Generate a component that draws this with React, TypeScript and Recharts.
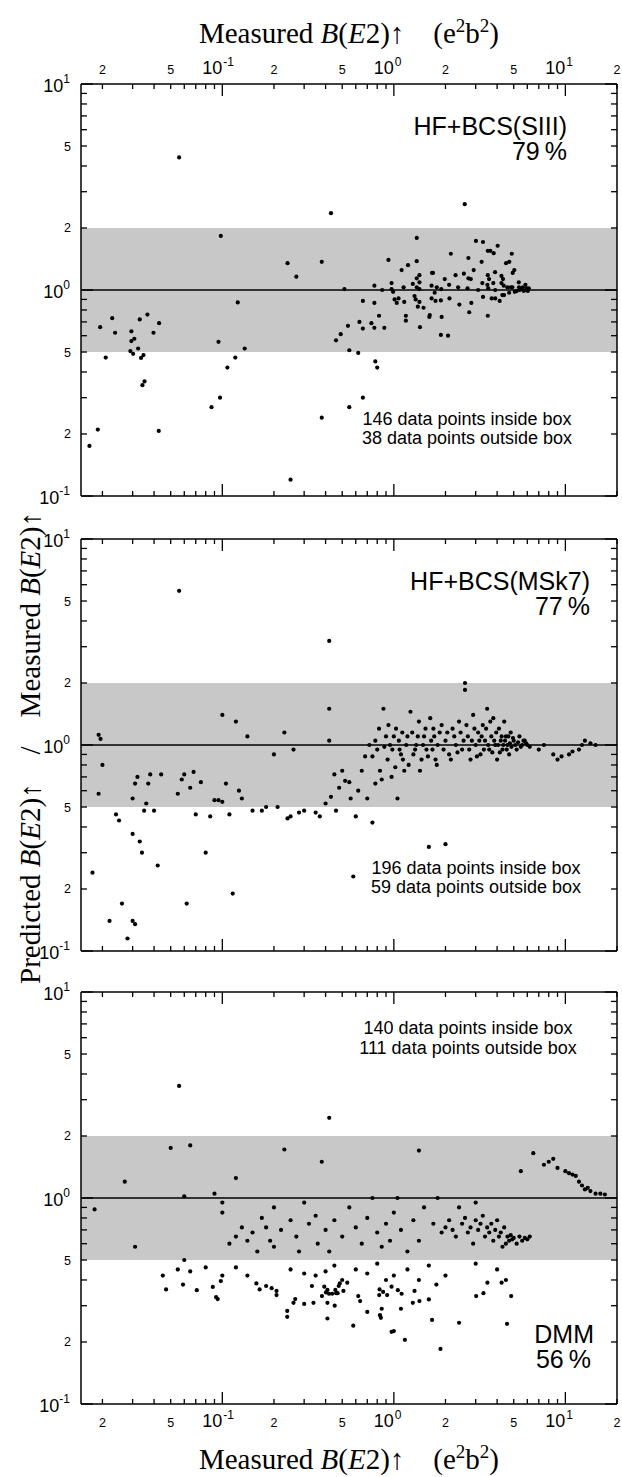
import React from "react";
import {
  ScatterChart,
  Scatter,
  XAxis,
  YAxis,
  ReferenceArea,
  ReferenceLine,
} from "recharts";

// tick positions and labels
const xTicks = [
  0.02, 0.03, 0.04, 0.05, 0.06, 0.07, 0.08, 0.09, 0.1, 0.2, 0.3, 0.4, 0.5,
  0.6, 0.7, 0.8, 0.9, 1, 2, 3, 4, 5, 6, 7, 8, 9, 10, 20,
];
const yTicks = [
  0.1, 0.2, 0.3, 0.4, 0.5, 0.6, 0.7, 0.8, 0.9, 1, 2, 3, 4, 5, 6, 7, 8, 9, 10,
];
const xTickLabels: [number, string][] = [
  [0.02, "2"], [0.05, "5"], [0.1, "10^-1"], [0.2, "2"], [0.5, "5"],
  [1, "10^0"], [2, "2"], [5, "5"], [10, "10^1"], [20, "2"],
];
const yTickLabels: [number, string][] = [
  [0.1, "10^-1"], [0.2, "2"], [0.5, "5"], [1, "10^0"], [2, "2"], [5, "5"],
  [10, "10^1"],
];

// [measured B(E2), predicted / measured]
const siiiPoints: [number, number][] = [
  [0.098, 1.83], [0.24, 1.35], [0.27, 1.16], [0.123, 0.87], [0.0194, 0.66],
  [0.0228, 0.73], [0.0237, 0.62], [0.0209, 0.47], [0.0295, 0.63], [0.033, 0.72],
  [0.0366, 0.76], [0.0428, 0.69], [0.0397, 0.62], [0.0295, 0.565], [0.0307, 0.58],
  [0.0323, 0.52], [0.0291, 0.505], [0.0302, 0.49], [0.0347, 0.483], [0.0336, 0.468],
  [0.0352, 0.36], [0.0342, 0.345], [0.0188, 0.21], [0.0168, 0.175], [0.0426, 0.207],
  [0.095, 0.56], [0.135, 0.52], [0.119, 0.47], [0.107, 0.42], [0.097, 0.3],
  [0.0865, 0.27], [0.43, 2.36], [2.59, 2.61], [0.38, 1.37], [1.36, 1.79],
  [0.93, 1.4], [1.21, 1.32], [1.36, 1.38], [1.11, 1.25], [1.41, 1.18],
  [1.36, 1.14], [1.41, 1.09], [1.29, 1.07], [0.97, 1.08], [0.77, 1.05],
  [0.855, 1.0], [0.97, 1.01], [0.99, 0.98], [0.515, 1.01], [1.14, 1.03],
  [1.36, 1.03], [1.41, 1.01], [1.01, 0.9], [1.065, 0.91], [1.04, 0.865],
  [1.15, 0.875], [0.66, 0.885], [0.77, 0.865], [1.32, 0.935], [1.34, 0.9],
  [1.41, 0.875], [1.38, 0.83], [1.49, 0.82], [1.66, 0.91], [1.75, 0.885],
  [1.73, 0.97], [1.78, 1.03], [1.67, 1.21], [1.69, 1.21], [1.66, 1.05],
  [1.89, 1.01], [1.88, 0.89], [1.98, 1.13], [2.15, 1.5], [2.1, 1.06],
  [2.11, 0.91], [2.29, 1.18], [2.37, 1.03], [2.41, 0.85], [2.56, 1.2],
  [2.72, 1.43], [2.72, 1.14], [2.81, 1.13], [2.69, 1.02], [2.83, 0.865],
  [2.75, 0.78], [2.92, 1.25], [3.01, 1.73], [3.31, 1.71], [3.25, 1.37],
  [3.1, 1.0], [3.28, 1.08], [3.31, 0.925], [3.53, 1.55], [3.65, 1.55],
  [3.82, 1.51], [4.03, 1.64], [3.53, 1.18], [3.59, 1.13], [3.51, 1.06],
  [3.55, 1.02], [3.8, 1.08], [3.89, 1.22], [3.9, 1.0], [3.72, 0.91],
  [3.9, 0.91], [4.14, 0.885], [3.53, 0.75], [4.24, 1.17], [4.33, 1.13],
  [4.24, 1.08], [4.37, 1.05], [4.29, 0.945], [4.39, 0.945], [4.59, 1.03],
  [4.51, 1.35], [4.71, 1.37], [4.87, 1.5], [4.93, 1.21], [5.04, 1.25],
  [4.81, 1.03], [4.7, 0.97], [4.91, 1.03], [5.07, 0.98], [5.21, 0.99],
  [5.35, 1.09], [5.37, 1.03], [5.42, 1.0], [5.54, 1.01], [5.65, 1.03],
  [5.72, 0.99], [5.85, 1.06], [5.96, 1.02], [6.04, 0.99], [6.12, 1.02],
  [5.91, 1.0], [0.74, 0.69], [0.82, 0.75], [0.66, 0.65], [0.77, 0.655],
  [0.88, 0.655], [0.63, 0.7], [0.54, 0.67], [0.49, 0.61], [0.46, 0.57],
  [0.55, 0.51], [0.62, 0.495], [1.175, 0.71], [1.175, 0.75], [1.61, 0.74],
  [1.62, 0.756], [1.9, 0.74], [1.42, 0.66], [1.88, 0.605], [2.07, 0.6],
  [0.056, 4.4], [0.38, 0.24], [0.25, 0.12], [0.55, 0.27], [0.66, 0.3],
  [0.8, 0.42], [0.78, 0.45],
];

const msk7Points: [number, number][] = [
  [0.0175, 0.24], [0.019, 1.12], [0.0195, 1.07], [0.02, 0.8], [0.019, 0.58],
  [0.022, 0.14], [0.024, 0.46], [0.025, 0.43], [0.026, 0.17], [0.028, 0.115],
  [0.03, 0.14], [0.031, 0.135], [0.03, 0.37], [0.03, 0.55], [0.031, 0.65],
  [0.032, 0.7], [0.033, 0.34], [0.034, 0.3], [0.035, 0.48], [0.036, 0.52],
  [0.037, 0.65], [0.038, 0.72], [0.04, 0.48], [0.042, 0.26], [0.044, 0.72],
  [0.056, 5.6], [0.055, 0.58], [0.058, 0.68], [0.06, 0.72], [0.062, 0.17],
  [0.065, 0.62], [0.068, 0.74], [0.07, 0.46], [0.075, 0.66], [0.08, 0.3],
  [0.085, 0.45], [0.09, 0.54], [0.095, 0.54], [0.1, 1.4], [0.1, 0.53],
  [0.105, 0.65], [0.11, 0.46], [0.115, 0.19], [0.12, 1.3], [0.125, 0.6],
  [0.13, 0.55], [0.14, 1.1], [0.15, 0.48], [0.17, 0.48], [0.18, 0.5],
  [0.2, 0.9], [0.21, 0.5], [0.23, 1.15], [0.24, 0.44], [0.25, 0.45],
  [0.26, 0.95], [0.28, 0.47], [0.3, 0.48], [0.35, 0.47], [0.37, 0.45],
  [0.4, 0.52], [0.42, 3.2], [0.42, 1.5], [0.42, 1.05], [0.43, 0.56],
  [0.45, 0.72], [0.46, 0.48], [0.48, 0.62], [0.5, 0.75], [0.52, 0.67],
  [0.55, 0.66], [0.56, 0.55], [0.58, 0.23], [0.6, 0.45], [0.62, 0.6],
  [0.65, 0.75], [0.68, 0.88], [0.7, 0.55], [0.72, 1.0], [0.75, 0.42],
  [0.78, 0.65], [0.8, 0.95], [0.82, 1.2], [0.85, 0.68], [0.87, 1.5],
  [0.9, 1.1], [0.92, 0.85], [0.95, 1.0], [0.98, 0.95], [1.0, 1.1],
  [1.02, 0.78], [1.05, 0.55], [1.07, 1.05], [1.1, 0.9], [1.12, 1.15],
  [1.15, 0.75], [1.2, 1.1], [1.25, 1.45], [1.3, 0.9], [1.35, 1.0],
  [1.4, 1.3], [1.45, 0.85], [1.5, 1.1], [1.55, 0.95], [1.6, 0.32],
  [1.65, 1.05], [1.7, 1.2], [1.75, 0.85], [1.8, 1.0], [1.9, 1.25],
  [2.0, 0.33], [2.0, 1.05], [2.1, 0.9], [2.2, 1.2], [2.3, 1.0],
  [2.4, 1.3], [2.5, 0.95], [2.6, 2.0], [2.6, 1.85], [2.7, 1.1],
  [2.8, 0.85], [2.9, 1.4], [3.0, 1.0], [3.1, 1.15], [3.2, 0.9],
  [3.3, 1.25], [3.4, 1.05], [3.5, 1.5], [3.6, 0.95], [3.7, 1.1],
  [3.8, 1.35], [3.9, 1.0], [4.0, 0.85], [4.1, 1.2], [4.2, 1.05],
  [4.3, 0.95], [4.4, 1.3], [4.5, 1.1], [4.6, 1.0], [4.7, 0.9],
  [4.8, 1.15], [5.0, 1.05], [5.2, 0.95], [5.4, 1.1], [5.6, 1.0],
  [5.8, 1.05], [6.0, 1.0], [7.0, 0.95], [7.5, 1.0], [8.5, 0.9],
  [9.0, 0.85], [9.5, 0.88], [10.5, 0.9], [11.0, 0.93], [12.0, 0.95],
  [12.5, 1.0], [13.0, 1.05], [14.0, 1.02], [15.0, 1.0],
  [0.75, 0.88], [0.78, 1.05], [0.83, 0.75], [0.88, 0.98], [0.93, 1.25],
  [0.97, 0.7], [1.03, 1.2], [1.08, 0.95], [1.13, 0.85], [1.18, 1.0],
  [1.22, 0.8], [1.28, 1.15], [1.33, 0.95], [1.38, 1.1], [1.42, 0.75],
  [1.48, 1.0], [1.53, 1.2], [1.58, 0.88], [1.63, 1.35], [1.68, 0.95],
  [1.72, 1.1], [1.78, 0.8], [1.85, 1.15], [1.95, 0.95], [2.05, 1.15],
  [2.15, 0.85], [2.25, 1.1], [2.35, 0.92], [2.45, 1.15], [2.55, 1.05],
  [2.65, 1.25], [2.75, 0.95], [2.85, 1.05], [2.95, 1.2], [3.05, 0.88],
  [3.15, 1.05], [3.25, 1.1], [3.35, 0.95], [3.45, 1.2], [3.55, 1.0],
  [3.65, 1.3], [3.75, 0.92], [3.85, 1.05], [3.95, 1.15], [4.05, 1.0],
  [4.15, 0.92], [4.25, 1.1], [4.35, 1.0], [4.45, 1.05], [4.55, 0.95],
  [4.65, 1.1], [4.75, 1.02], [4.85, 0.98], [4.95, 1.08], [5.1, 1.0],
  [5.3, 1.03], [5.5, 0.98], [5.7, 1.05], [5.9, 1.02], [6.2, 0.98],
];

const dmmPoints: [number, number][] = [
  [0.047, 0.36], [0.059, 0.38], [0.071, 0.357], [0.088, 0.37], [0.092, 0.33],
  [0.094, 0.323], [0.158, 0.385], [0.165, 0.36], [0.18, 0.374], [0.194, 0.365],
  [0.207, 0.354], [0.207, 0.338], [0.239, 0.283], [0.239, 0.265], [0.26, 0.31],
  [0.266, 0.323], [0.3, 0.306], [0.333, 0.374], [0.34, 0.31], [0.41, 0.26],
  [0.41, 0.31], [0.452, 0.3], [0.62, 0.334], [0.636, 0.316], [0.58, 0.24],
  [0.7, 0.28], [0.83, 0.27], [0.84, 0.262], [0.85, 0.29], [0.97, 0.224],
  [1.0, 0.226], [1.1, 0.29], [1.16, 0.205], [1.67, 0.256], [1.87, 0.185],
  [2.4, 0.248], [4.57, 0.245], [0.381, 0.334], [0.393, 0.371], [0.402, 0.348],
  [0.41, 0.358], [0.419, 0.343], [0.437, 0.343], [0.456, 0.358], [0.461, 0.345],
  [0.47, 0.345], [0.477, 0.374], [0.484, 0.385], [0.508, 0.354], [0.535, 0.388],
  [0.826, 0.36], [0.822, 0.338], [0.866, 0.35], [0.914, 0.338], [0.97, 0.371],
  [1.055, 0.357], [1.11, 0.343], [1.29, 0.31], [1.32, 0.354], [1.41, 0.316],
  [1.6, 0.322], [1.77, 0.38], [3.02, 0.334], [3.33, 0.345], [3.51, 0.388],
  [4.25, 0.388], [4.83, 0.334], [0.098, 0.395],
  [0.056, 3.5], [0.42, 2.45], [0.05, 1.75], [0.065, 1.8], [0.23, 1.72],
  [0.38, 1.5], [1.4, 1.7], [0.027, 1.2], [0.018, 0.88], [0.031, 0.58],
  [5.5, 1.35], [0.06, 1.02], [0.09, 1.05], [0.1, 0.95], [0.1, 0.85],
  [0.11, 0.6], [0.12, 1.25], [0.12, 0.65], [0.13, 0.72], [0.14, 0.62],
  [0.15, 0.68], [0.16, 0.55], [0.17, 0.8], [0.18, 0.72], [0.19, 0.62],
  [0.2, 0.9], [0.2, 0.58], [0.22, 0.7], [0.25, 0.78], [0.27, 0.65],
  [0.28, 0.55], [0.3, 0.95], [0.32, 0.75], [0.35, 0.82], [0.36, 0.6],
  [0.4, 0.7], [0.42, 0.55], [0.45, 0.78], [0.5, 0.65], [0.55, 0.9],
  [0.6, 0.72], [0.65, 0.6], [0.7, 0.8], [0.75, 1.0], [0.8, 0.68],
  [0.85, 0.58], [0.9, 0.75], [0.95, 0.62], [1.0, 0.85], [1.05, 1.0],
  [1.1, 0.7], [1.2, 0.55], [1.3, 0.78], [1.4, 0.62], [1.5, 0.9],
  [1.7, 0.75], [1.9, 0.68], [2.0, 0.72], [2.1, 0.78], [2.2, 0.7],
  [2.3, 0.65], [2.5, 0.75], [2.6, 0.8], [2.7, 0.68], [2.8, 0.72],
  [2.9, 0.6], [3.0, 0.78], [3.1, 0.7], [3.2, 0.75], [3.3, 0.82],
  [3.4, 0.65], [3.5, 0.72], [3.6, 0.68], [3.7, 0.75], [3.8, 0.62],
  [3.9, 0.7], [4.0, 0.78], [4.1, 0.65], [4.2, 0.68], [4.3, 0.58],
  [4.4, 0.72], [4.5, 0.6], [4.6, 0.65], [4.7, 0.62], [4.8, 0.66],
  [4.9, 0.63], [5.0, 0.64], [5.2, 0.6], [5.4, 0.65], [5.6, 0.62],
  [5.8, 0.64], [6.0, 0.63], [6.2, 0.65], [3.0, 0.95], [2.4, 0.9],
  [1.8, 1.0], [6.5, 1.65], [7.5, 1.45], [8.0, 1.5], [8.5, 1.55],
  [10.0, 1.35], [11.0, 1.3], [11.5, 1.28], [12.0, 1.2], [12.5, 1.15],
  [13.0, 1.1], [14.0, 1.08], [15.0, 1.05], [16.0, 1.05], [17.0, 1.04],
  [9.0, 1.4], [10.5, 1.32], [13.5, 1.12],
  [0.045, 0.42], [0.055, 0.45], [0.06, 0.5], [0.065, 0.44], [0.08, 0.46],
  [0.1, 0.42], [0.12, 0.46], [0.14, 0.42], [0.25, 0.45], [0.3, 0.43],
  [0.35, 0.42], [0.4, 0.44], [0.45, 0.47], [0.5, 0.4], [0.6, 0.45],
  [0.7, 0.43], [0.8, 0.48], [0.9, 0.4], [1.0, 0.42], [1.2, 0.45],
  [1.4, 0.4], [1.6, 0.47], [2.0, 0.42], [3.0, 0.48], [4.0, 0.45],
  [4.5, 0.4],
];

const SANS = "'Liberation Sans', Arial, Helvetica, sans-serif";
const SERIF = "'Liberation Serif', 'Times New Roman', serif";

const W = 622;
const PLOT_LEFT = 81;
const PLOT_RIGHT = 617;
const PLOT_H = 412;
const PAD = 40;

function labelFor(list: [number, string][], v: number): string | null {
  const hit = list.find(([t]) => Math.abs(t - v) < v * 1e-6);
  return hit ? hit[1] : null;
}

function isDecade(v: number) {
  const l = Math.log10(v);
  return Math.abs(l - Math.round(l)) < 1e-6;
}

function XTick(props: any) {
  const { x, y, payload, side, labelled } = props;
  const v = payload.value;
  const len = isDecade(v) ? 12 : 5;
  const dir = side === "top" ? 1 : -1;
  const label = labelled ? labelFor(xTickLabels, v) : null;
  const base = side === "top" ? y - 10 : y + 23;
  let text = null;
  if (label) {
    const [b, e] = label.split("^");
    text = e ? (
      <g fontFamily={SANS} fill="#000">
        <text x={x} y={base} textAnchor="end" fontSize={18}>{b}</text>
        <text x={x + 1} y={base - 8} textAnchor="start" fontSize={12}>{e}</text>
      </g>
    ) : (
      <text x={x} y={base} textAnchor="middle" fontSize={12.5} fontFamily={SANS} fill="#000">
        {b}
      </text>
    );
  }
  return (
    <g>
      <line x1={x} x2={x} y1={y} y2={y + dir * len} stroke="#000" strokeWidth={1.3} />
      {text}
    </g>
  );
}

function YTick(props: any) {
  const { x, y, payload, side } = props;
  const v = payload.value;
  const len = isDecade(v) ? 12 : 6;
  const dir = side === "left" ? 1 : -1;
  const label = side === "left" ? labelFor(yTickLabels, v) : null;
  let text = null;
  if (label) {
    const [b, e] = label.split("^");
    text = e ? (
      <text x={x - 11} y={y + 8} textAnchor="end" fontSize={18} fontFamily={SANS} fill="#000">
        {b}
        <tspan dy={-9} fontSize={12}>{e}</tspan>
      </text>
    ) : (
      <text x={x - 10} y={y + 4.5} textAnchor="end" fontSize={12.5} fontFamily={SANS} fill="#000">
        {b}
      </text>
    );
  }
  return (
    <g>
      <line x1={x} x2={x + dir * len} y1={y} y2={y} stroke="#000" strokeWidth={1.3} />
      {text}
    </g>
  );
}

const axisLine = { stroke: "#000", strokeWidth: 1.5 };

const Dot = (p: any) => <circle cx={p.cx} cy={p.cy} r={2.1} fill="#000" />;

function Panel({
  points,
  top,
  topLabels,
  bottomLabels,
}: {
  points: [number, number][];
  top: number;
  topLabels: boolean;
  bottomLabels: boolean;
}) {
  const data = points.map(([x, y]) => ({ x, y }));
  return (
    <div style={{ position: "absolute", left: 0, top: top - PAD }}>
      <ScatterChart
        width={W}
        height={PLOT_H + 2 * PAD}
        margin={{ top: 0, bottom: 0, left: 0, right: 0 }}
      >
        <XAxis
          xAxisId="b"
          type="number"
          dataKey="x"
          scale="log"
          domain={[0.015, 20]}
          allowDataOverflow
          ticks={xTicks}
          interval={0}
          height={PAD}
          tickSize={0}
          tickMargin={0}
          tickLine={false}
          axisLine={axisLine}
          tick={(p: any) => <XTick {...p} side="bottom" labelled={bottomLabels} />}
        />
        <XAxis
          xAxisId="t"
          orientation="top"
          type="number"
          dataKey="x"
          scale="log"
          domain={[0.015, 20]}
          allowDataOverflow
          ticks={xTicks}
          interval={0}
          height={PAD}
          tickSize={0}
          tickMargin={0}
          tickLine={false}
          axisLine={axisLine}
          tick={(p: any) => <XTick {...p} side="top" labelled={topLabels} />}
        />
        <YAxis
          yAxisId="l"
          type="number"
          dataKey="y"
          scale="log"
          domain={[0.1, 10]}
          allowDataOverflow
          ticks={yTicks}
          interval={0}
          width={PLOT_LEFT}
          tickSize={0}
          tickMargin={0}
          tickLine={false}
          axisLine={axisLine}
          tick={(p: any) => <YTick {...p} side="left" />}
        />
        <YAxis
          yAxisId="r"
          orientation="right"
          type="number"
          dataKey="y"
          scale="log"
          domain={[0.1, 10]}
          allowDataOverflow
          ticks={yTicks}
          interval={0}
          width={W - PLOT_RIGHT}
          tickSize={0}
          tickMargin={0}
          tickLine={false}
          axisLine={axisLine}
          tick={(p: any) => <YTick {...p} side="right" />}
        />
        <ReferenceArea
          xAxisId="b"
          yAxisId="l"
          y1={0.5}
          y2={2}
          fill="#c8c8c8"
          fillOpacity={1}
          stroke="none"
        />
        <ReferenceLine xAxisId="b" yAxisId="l" y={1} stroke="#000" strokeWidth={1.3} />
        <Scatter
          xAxisId="b"
          yAxisId="l"
          data={data}
          shape={Dot}
          isAnimationActive={false}
        />
      </ScatterChart>
    </div>
  );
}

const panelTops = [84, 539, 992];

export default function App() {
  return (
    <div style={{ position: "absolute", left: 0, top: 0, width: W, height: 1477, background: "#fff" }}>
      <Panel points={siiiPoints} top={panelTops[0]} topLabels bottomLabels={false} />
      <Panel points={msk7Points} top={panelTops[1]} topLabels={false} bottomLabels={false} />
      <Panel points={dmmPoints} top={panelTops[2]} topLabels={false} bottomLabels />
      <svg
        width={W}
        height={1477}
        style={{ position: "absolute", left: 0, top: 0, pointerEvents: "none" }}
      >
        <g fontFamily={SERIF} fontSize={29} fill="#000">
          <text x={349} y={43} textAnchor="middle">
            Measured <tspan fontStyle="italic">B</tspan>(<tspan fontStyle="italic">E</tspan>2)↑{"\u2003"}(e
            <tspan dy={-11} fontSize={19}>2</tspan>
            <tspan dy={11}>b</tspan>
            <tspan dy={-11} fontSize={19}>2</tspan>
            <tspan dy={11}>)</tspan>
          </text>
          <text x={349} y={1469} textAnchor="middle">
            Measured <tspan fontStyle="italic">B</tspan>(<tspan fontStyle="italic">E</tspan>2)↑{"\u2003"}(e
            <tspan dy={-11} fontSize={19}>2</tspan>
            <tspan dy={11}>b</tspan>
            <tspan dy={-11} fontSize={19}>2</tspan>
            <tspan dy={11}>)</tspan>
          </text>
          <text transform="translate(40,748) rotate(-90)" textAnchor="middle">
            Predicted <tspan fontStyle="italic">B</tspan>(<tspan fontStyle="italic">E</tspan>2)↑{"\u2003/\u2003"}Measured{" "}
            <tspan fontStyle="italic">B</tspan>(<tspan fontStyle="italic">E</tspan>2)↑
          </text>
        </g>
        <g fontFamily={SANS} fontSize={25} fill="#000" textAnchor="end">
          <text x={567} y={135}>HF+BCS(SIII)</text>
          <text x={567} y={160}>79{"\u2009"}%</text>
          <text x={590} y={590}>HF+BCS(MSk7)</text>
          <text x={590} y={615}>77{"\u2009"}%</text>
          <text x={594} y={1343}>DMM</text>
          <text x={591} y={1368}>56{"\u2009"}%</text>
        </g>
        <g fontFamily={SANS} fontSize={18} fill="#000" textAnchor="middle">
          <text x={467} y={425}>146 data points inside box</text>
          <text x={467} y={444}>38 data points outside box</text>
          <text x={476} y={874}>196 data points inside box</text>
          <text x={476} y={893}>59 data points outside box</text>
          <text x={468} y={1034}>140 data points inside box</text>
          <text x={468} y={1054}>111 data points outside box</text>
        </g>
      </svg>
    </div>
  );
}
